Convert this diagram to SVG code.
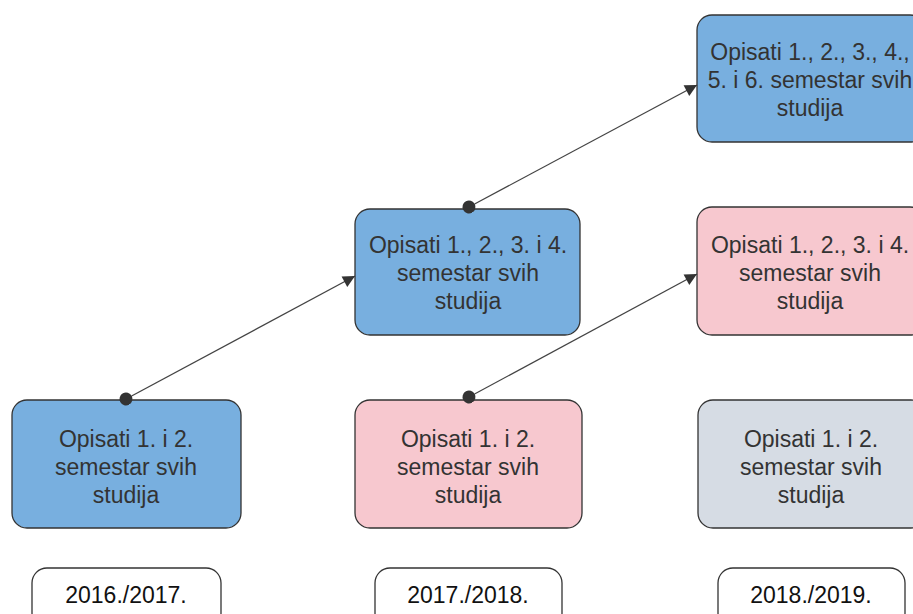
<svg xmlns="http://www.w3.org/2000/svg" width="913" height="614" viewBox="0 0 913 614">
<defs>
<style>
.box{stroke:#333;stroke-width:1.3}
.blue{fill:#78afdf}
.pink{fill:#f7c8cf}
.gray{fill:#d6dce4}
.year{fill:#fff;stroke:#333;stroke-width:1.3}
.t{font-family:"Liberation Sans",Arial,sans-serif;font-size:23px;fill:#333;text-anchor:middle}
.y{font-family:"Liberation Sans",Arial,sans-serif;font-size:23px;fill:#111;text-anchor:middle}
.c{stroke:#444;stroke-width:1.3;fill:none;marker-start:url(#dot);marker-end:url(#arr)}
</style>
<marker id="arr" viewBox="0 0 10 10" refX="10" refY="5" markerWidth="14" markerHeight="12" markerUnits="userSpaceOnUse" orient="auto"><path d="M0,0 L10,5 L0,10 z" fill="#333"/></marker>
<marker id="dot" viewBox="0 0 10 10" refX="5" refY="5" markerWidth="13" markerHeight="13" markerUnits="userSpaceOnUse" orient="auto"><circle cx="5" cy="5" r="5" fill="#333"/></marker>
</defs>
<rect width="913" height="614" fill="#fff"/>
<g id="n2016">
<rect class="box blue" x="12" y="400" width="229" height="128" rx="15"/>
<text class="t" x="126" y="447">Opisati 1. i 2.</text>
<text class="t" x="126" y="475">semestar svih</text>
<text class="t" x="126" y="503">studija</text>
</g>
<g id="n2017a">
<rect class="box blue" x="355" y="209" width="225" height="126" rx="15"/>
<text class="t" x="468" y="253">Opisati 1., 2., 3. i 4.</text>
<text class="t" x="468" y="281">semestar svih</text>
<text class="t" x="468" y="309">studija</text>
</g>
<g id="n2017b">
<rect class="box pink" x="355" y="400" width="227" height="128" rx="15"/>
<text class="t" x="468" y="447">Opisati 1. i 2.</text>
<text class="t" x="468" y="475">semestar svih</text>
<text class="t" x="468" y="503">studija</text>
</g>
<g id="n2018a">
<rect class="box blue" x="697" y="15" width="228" height="127" rx="15"/>
<text class="t" x="810" y="60">Opisati 1., 2., 3., 4.,</text>
<text class="t" x="810" y="88">5. i 6. semestar svih</text>
<text class="t" x="810" y="116">studija</text>
</g>
<g id="n2018b">
<rect class="box pink" x="697" y="207" width="228" height="128" rx="15"/>
<text class="t" x="810" y="253">Opisati 1., 2., 3. i 4.</text>
<text class="t" x="810" y="281">semestar svih</text>
<text class="t" x="810" y="309">studija</text>
</g>
<g id="n2018c">
<rect class="box gray" x="698" y="400" width="228" height="128" rx="15"/>
<text class="t" x="811" y="447">Opisati 1. i 2.</text>
<text class="t" x="811" y="475">semestar svih</text>
<text class="t" x="811" y="503">studija</text>
</g>
<g id="y2016">
<rect class="year" x="32" y="568" width="189" height="60" rx="15"/>
<text class="y" x="126" y="603">2016./2017.</text>
</g>
<g id="y2017">
<rect class="year" x="375" y="568" width="187" height="60" rx="15"/>
<text class="y" x="468" y="603">2017./2018.</text>
</g>
<g id="y2018">
<rect class="year" x="718" y="568" width="187" height="60" rx="15"/>
<text class="y" x="811" y="603">2018./2019.</text>
</g>
<g id="connectors">
<line class="c" x1="126" y1="399" x2="355" y2="276"/>
<line class="c" x1="469" y1="207" x2="697" y2="85"/>
<line class="c" x1="469" y1="397" x2="697" y2="274"/>
</g>
</svg>
